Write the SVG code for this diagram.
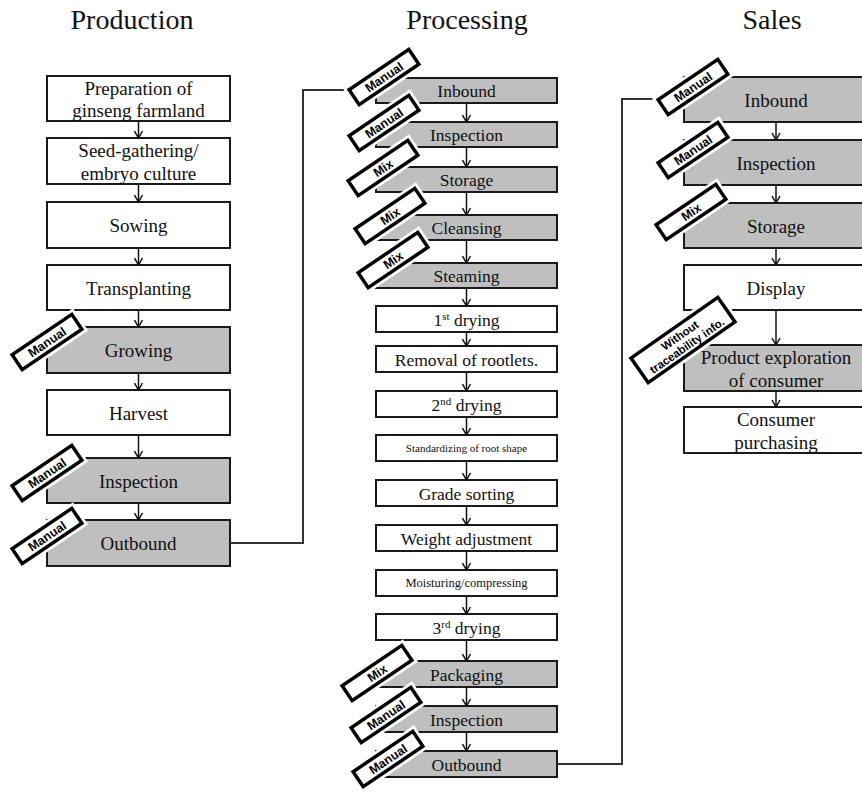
<svg xmlns="http://www.w3.org/2000/svg" width="862" height="792" viewBox="0 0 862 792">
  <style>
    .box{stroke:#1a1a1a;stroke-width:2}
    .w{fill:#fff}
    .g{fill:#bfbfbf}
    .t{font-family:"Liberation Serif","Times New Roman",serif;font-size:19px;text-anchor:middle;fill:#111}
    .tp{font-size:17.5px}
    .ts{font-size:11px}
    .tm{font-size:12.5px}
    .title{font-family:"Liberation Serif","Times New Roman",serif;font-size:28px;text-anchor:middle;fill:#111}
    .arr{stroke:#111;stroke-width:1.5;fill:none;marker-end:url(#v)}
    .con{stroke:#333;stroke-width:2;fill:none}
    .halo{fill:#fff;stroke:#fff;stroke-width:9}
    .tag{fill:#fff;stroke:#000;stroke-width:3.5}
    .tt{font-family:"Liberation Sans",Arial,sans-serif;font-size:12.5px;font-weight:bold;text-anchor:middle;fill:#000}
    .tt2{font-size:11.5px}
  </style>
  <defs>
    <marker id="v" viewBox="0 0 10 10" refX="9" refY="5" markerWidth="10" markerHeight="10" markerUnits="userSpaceOnUse" orient="auto">
      <path d="M2,1 L9,5 L2,9" fill="none" stroke="#111" stroke-width="1.5"/>
    </marker>
  </defs>

  <rect width="862" height="792" fill="#fff"/>

  <!-- column headings -->
  <text class="title" x="132" y="29">Production</text>
  <text class="title" x="467" y="29">Processing</text>
  <text class="title" x="772" y="29">Sales</text>

  <!-- Production column -->
  <g id="prod-farmland"><rect class="box w" x="47" y="76" width="183" height="45"/><text class="t" x="138.5" y="95">Preparation of</text><text class="t" x="138.5" y="117">ginseng farmland</text></g>
  <g id="prod-seed"><rect class="box w" x="47" y="138" width="183" height="46"/><text class="t" x="138.5" y="157">Seed-gathering/</text><text class="t" x="138.5" y="180">embryo culture</text></g>
  <g id="prod-sowing"><rect class="box w" x="47" y="202" width="183" height="46"/><text class="t" x="138.5" y="232">Sowing</text></g>
  <g id="prod-transplanting"><rect class="box w" x="47" y="265" width="183" height="45"/><text class="t" x="138.5" y="295">Transplanting</text></g>
  <g id="prod-growing"><rect class="box g" x="47" y="327" width="183" height="46"/><text class="t" x="138.5" y="357">Growing</text></g>
  <g id="prod-harvest"><rect class="box w" x="47" y="390" width="183" height="45"/><text class="t" x="138.5" y="420">Harvest</text></g>
  <g id="prod-inspection"><rect class="box g" x="47" y="458" width="183" height="45"/><text class="t" x="138.5" y="488">Inspection</text></g>
  <g id="prod-outbound"><rect class="box g" x="47" y="520" width="183" height="46"/><text class="t" x="138.5" y="550">Outbound</text></g>

  <!-- Processing column -->
  <g id="proc-inbound"><rect class="box g" x="376" y="78" width="181" height="25"/><text class="t tp" x="466.5" y="97">Inbound</text></g>
  <g id="proc-inspection1"><rect class="box g" x="376" y="122" width="181" height="25"/><text class="t tp" x="466.5" y="141">Inspection</text></g>
  <g id="proc-storage"><rect class="box g" x="376" y="167" width="181" height="25"/><text class="t tp" x="466.5" y="186">Storage</text></g>
  <g id="proc-cleansing"><rect class="box g" x="376" y="215" width="181" height="25"/><text class="t tp" x="466.5" y="234">Cleansing</text></g>
  <g id="proc-steaming"><rect class="box g" x="376" y="263" width="181" height="25"/><text class="t tp" x="466.5" y="282">Steaming</text></g>
  <g id="proc-drying1"><rect class="box w" x="376" y="306" width="181" height="26"/><text class="t tp" x="466.5" y="326">1<tspan font-size="11" dy="-6">st</tspan><tspan dy="6"> drying</tspan></text></g>
  <g id="proc-rootlets"><rect class="box w" x="376" y="346" width="181" height="26"/><text class="t tp" x="466.5" y="365.5">Removal of rootlets.</text></g>
  <g id="proc-drying2"><rect class="box w" x="376" y="391" width="181" height="26"/><text class="t tp" x="466.5" y="411">2<tspan font-size="11" dy="-6">nd</tspan><tspan dy="6"> drying</tspan></text></g>
  <g id="proc-shape"><rect class="box w" x="376" y="435" width="181" height="26"/><text class="t ts" x="466.5" y="452">Standardizing of root shape</text></g>
  <g id="proc-grade"><rect class="box w" x="376" y="480" width="181" height="26"/><text class="t tp" x="466.5" y="499.5">Grade sorting</text></g>
  <g id="proc-weight"><rect class="box w" x="376" y="525" width="181" height="26"/><text class="t tp" x="466.5" y="544.5">Weight adjustment</text></g>
  <g id="proc-moisture"><rect class="box w" x="376" y="570" width="181" height="26"/><text class="t tm" x="466.5" y="587">Moisturing/compressing</text></g>
  <g id="proc-drying3"><rect class="box w" x="376" y="614" width="181" height="26"/><text class="t tp" x="466.5" y="634">3<tspan font-size="11" dy="-6">rd</tspan><tspan dy="6"> drying</tspan></text></g>
  <g id="proc-packaging"><rect class="box g" x="376" y="661" width="181" height="26"/><text class="t tp" x="466.5" y="680.5">Packaging</text></g>
  <g id="proc-inspection2"><rect class="box g" x="376" y="706" width="181" height="26"/><text class="t tp" x="466.5" y="725.5">Inspection</text></g>
  <g id="proc-outbound"><rect class="box g" x="376" y="751" width="181" height="26"/><text class="t tp" x="466.5" y="770.5">Outbound</text></g>

  <!-- Sales column (boxes run past the right edge) -->
  <g id="sales-inbound"><rect class="box g" x="684" y="77" width="192" height="45"/><text class="t" x="776" y="106.5">Inbound</text></g>
  <g id="sales-inspection"><rect class="box g" x="684" y="140" width="192" height="45"/><text class="t" x="776" y="169.5">Inspection</text></g>
  <g id="sales-storage"><rect class="box g" x="684" y="203" width="192" height="45"/><text class="t" x="776" y="232.5">Storage</text></g>
  <g id="sales-display"><rect class="box w" x="684" y="265" width="192" height="45"/><text class="t" x="776" y="294.5">Display</text></g>
  <g id="sales-exploration"><rect class="box g" x="684" y="345" width="192" height="46"/><text class="t" x="776" y="364">Product exploration</text><text class="t" x="776" y="387">of consumer</text></g>
  <g id="sales-purchasing"><rect class="box w" x="684" y="407" width="192" height="46"/><text class="t" x="776" y="426">Consumer</text><text class="t" x="776" y="449">purchasing</text></g>

  <!-- connectors -->
  <g id="connectors">
    <line class="arr" x1="138.5" y1="121" x2="138.5" y2="138"/>
    <line class="arr" x1="138.5" y1="184" x2="138.5" y2="202"/>
    <line class="arr" x1="138.5" y1="248" x2="138.5" y2="265"/>
    <line class="arr" x1="138.5" y1="310" x2="138.5" y2="327"/>
    <line class="arr" x1="138.5" y1="373" x2="138.5" y2="390"/>
    <line class="arr" x1="138.5" y1="435" x2="138.5" y2="458"/>
    <line class="arr" x1="138.5" y1="503" x2="138.5" y2="520"/>

    <line class="arr" x1="466.5" y1="103" x2="466.5" y2="122"/>
    <line class="arr" x1="466.5" y1="147" x2="466.5" y2="167"/>
    <line class="arr" x1="466.5" y1="192" x2="466.5" y2="215"/>
    <line class="arr" x1="466.5" y1="240" x2="466.5" y2="263"/>
    <line class="arr" x1="466.5" y1="288" x2="466.5" y2="306"/>
    <line class="arr" x1="466.5" y1="332" x2="466.5" y2="346"/>
    <line class="arr" x1="466.5" y1="372" x2="466.5" y2="391"/>
    <line class="arr" x1="466.5" y1="417" x2="466.5" y2="435"/>
    <line class="arr" x1="466.5" y1="461" x2="466.5" y2="480"/>
    <line class="arr" x1="466.5" y1="506" x2="466.5" y2="525"/>
    <line class="arr" x1="466.5" y1="551" x2="466.5" y2="570"/>
    <line class="arr" x1="466.5" y1="596" x2="466.5" y2="614"/>
    <line class="arr" x1="466.5" y1="640" x2="466.5" y2="661"/>
    <line class="arr" x1="466.5" y1="687" x2="466.5" y2="706"/>
    <line class="arr" x1="466.5" y1="732" x2="466.5" y2="751"/>

    <line class="arr" x1="776" y1="122" x2="776" y2="140"/>
    <line class="arr" x1="776" y1="185" x2="776" y2="203"/>
    <line class="arr" x1="776" y1="248" x2="776" y2="265"/>
    <line class="arr" x1="776" y1="310" x2="776" y2="345"/>
    <line class="arr" x1="776" y1="391" x2="776" y2="407"/>

    <polyline class="con" points="230,543 303,543 303,90 376,90"/>
    <polyline class="con" points="557,764 622,764 622,99 684,99"/>
  </g>

  <!-- method tags -->
  <g id="tags">
    <g id="tag-prod-growing" transform="translate(47,342) rotate(-34)"><rect class="halo" x="-36" y="-9" width="72" height="18"/><rect class="tag" x="-36" y="-9" width="72" height="18"/><text class="tt" y="4.5">Manual</text></g>
    <g id="tag-prod-inspection" transform="translate(47,473) rotate(-34)"><rect class="halo" x="-36" y="-9" width="72" height="18"/><rect class="tag" x="-36" y="-9" width="72" height="18"/><text class="tt" y="4.5">Manual</text></g>
    <g id="tag-prod-outbound" transform="translate(47,536) rotate(-34)"><rect class="halo" x="-36" y="-9" width="72" height="18"/><rect class="tag" x="-36" y="-9" width="72" height="18"/><text class="tt" y="4.5">Manual</text></g>

    <g id="tag-proc-inbound" transform="translate(384,77) rotate(-34)"><rect class="halo" x="-36" y="-9" width="72" height="18"/><rect class="tag" x="-36" y="-9" width="72" height="18"/><text class="tt" y="4.5">Manual</text></g>
    <g id="tag-proc-inspection1" transform="translate(384,123) rotate(-34)"><rect class="halo" x="-36" y="-9" width="72" height="18"/><rect class="tag" x="-36" y="-9" width="72" height="18"/><text class="tt" y="4.5">Manual</text></g>
    <g id="tag-proc-storage" transform="translate(383,168) rotate(-34)"><rect class="halo" x="-36" y="-9" width="72" height="18"/><rect class="tag" x="-36" y="-9" width="72" height="18"/><text class="tt" y="4.5">Mix</text></g>
    <g id="tag-proc-cleansing" transform="translate(390,216) rotate(-34)"><rect class="halo" x="-36" y="-9" width="72" height="18"/><rect class="tag" x="-36" y="-9" width="72" height="18"/><text class="tt" y="4.5">Mix</text></g>
    <g id="tag-proc-steaming" transform="translate(393,260) rotate(-34)"><rect class="halo" x="-36" y="-9" width="72" height="18"/><rect class="tag" x="-36" y="-9" width="72" height="18"/><text class="tt" y="4.5">Mix</text></g>
    <g id="tag-proc-packaging" transform="translate(377,673) rotate(-34)"><rect class="halo" x="-36" y="-9" width="72" height="18"/><rect class="tag" x="-36" y="-9" width="72" height="18"/><text class="tt" y="4.5">Mix</text></g>
    <g id="tag-proc-inspection2" transform="translate(386,715) rotate(-34)"><rect class="halo" x="-36" y="-9" width="72" height="18"/><rect class="tag" x="-36" y="-9" width="72" height="18"/><text class="tt" y="4.5">Manual</text></g>
    <g id="tag-proc-outbound" transform="translate(388,759) rotate(-34)"><rect class="halo" x="-36" y="-9" width="72" height="18"/><rect class="tag" x="-36" y="-9" width="72" height="18"/><text class="tt" y="4.5">Manual</text></g>

    <g id="tag-sales-inbound" transform="translate(693,87) rotate(-34)"><rect class="halo" x="-36" y="-9" width="72" height="18"/><rect class="tag" x="-36" y="-9" width="72" height="18"/><text class="tt" y="4.5">Manual</text></g>
    <g id="tag-sales-inspection" transform="translate(693,150) rotate(-34)"><rect class="halo" x="-36" y="-9" width="72" height="18"/><rect class="tag" x="-36" y="-9" width="72" height="18"/><text class="tt" y="4.5">Manual</text></g>
    <g id="tag-sales-storage" transform="translate(691,212) rotate(-34)"><rect class="halo" x="-36" y="-9" width="72" height="18"/><rect class="tag" x="-36" y="-9" width="72" height="18"/><text class="tt" y="4.5">Mix</text></g>
    <g id="tag-sales-exploration" transform="translate(683,340) rotate(-35)"><rect class="halo" x="-53" y="-15" width="106" height="30"/><rect class="tag" x="-53" y="-15" width="106" height="30"/><text class="tt tt2" y="-1.5">Without</text><text class="tt tt2" y="11">traceability info.</text></g>
  </g>
</svg>
